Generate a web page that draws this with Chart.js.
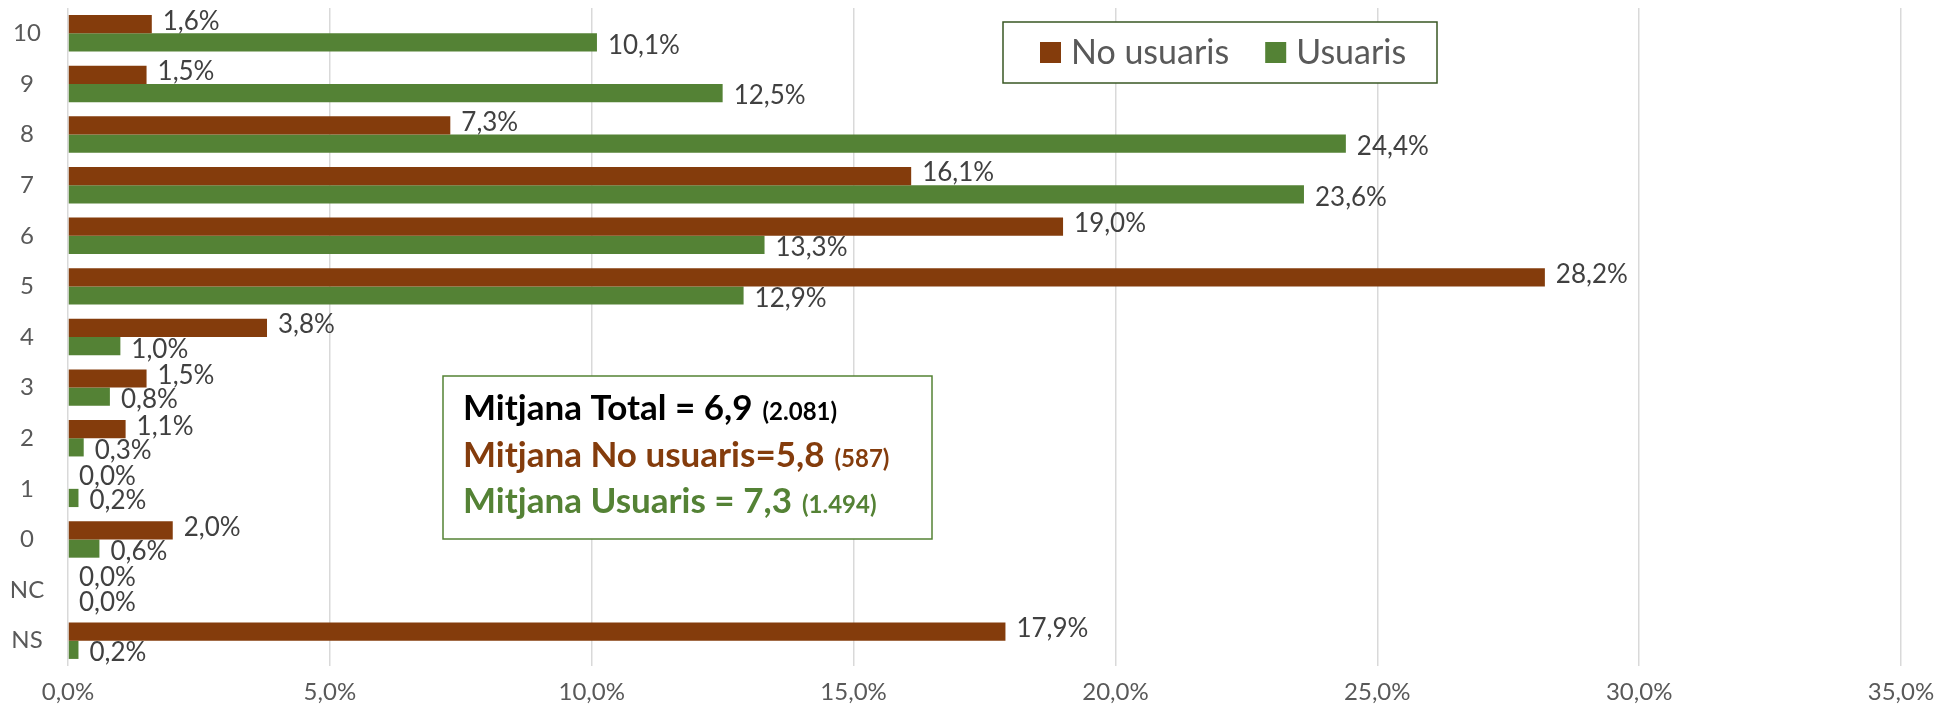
<!DOCTYPE html>
<html>
<head>
<meta charset="utf-8">
<script src="https://cdn.jsdelivr.net/npm/chart.js@4/dist/chart.umd.min.js"></script>
<style>
  html, body { margin: 0; padding: 0; background: #ffffff; }
  #wrap { width: 1952px; height: 717px; }
</style>
</head>
<body>
<div id="wrap"><canvas id="chart" width="1952" height="717"></canvas></div>
<script>
// categories top to bottom
const categories = ['10', '9', '8', '7', '6', '5', '4', '3', '2', '1', '0', 'NC', 'NS'];
// % per category
const noUsuaris = [1.6, 1.5, 7.3, 16.1, 19.0, 28.2, 3.8, 1.5, 1.1, 0.0, 2.0, 0.0, 17.9];
const usuaris = [10.1, 12.5, 24.4, 23.6, 13.3, 12.9, 1.0, 0.8, 0.3, 0.2, 0.6, 0.0, 0.2];
const xMax = 35;
const xStep = 5;
const seriesNames = ['No usuaris', 'Usuaris'];
const mitjanaTexts = ['Mitjana Total = 6,9', 'Mitjana No usuaris=5,8', 'Mitjana Usuaris = 7,3'];
const mitjanaN = ['(2.081)', '(587)', '(1.494)'];

const BROWN = '#843C0C';
const GREEN = '#548235';
const FONT = 'Lato, "Open Sans", sans-serif';

const fmt = v => v.toFixed(1).replace('.', ',') + '%';

// value labels at the end of each bar
const barLabels = {
    id: 'barLabels',
    afterDatasetsDraw(chart) {
        const ctx = chart.ctx;
        ctx.save();
        ctx.font = '26px ' + FONT;
        ctx.fillStyle = '#404040';
        ctx.textAlign = 'left';
        ctx.textBaseline = 'middle';
        chart.data.datasets.forEach((ds, i) => {
            const dy = i === 0 ? -3 : 3;
            chart.getDatasetMeta(i).data.forEach((bar, j) => {
                ctx.fillText(fmt(ds.data[j]), bar.x + 11, bar.y + dy);
            });
        });
        ctx.restore();
    }
};

// category labels, centred in the left margin
const catLabels = {
    id: 'catLabels',
    afterDraw(chart) {
        const ctx = chart.ctx;
        const sc = chart.scales.y;
        ctx.save();
        ctx.font = '24px ' + FONT;
        ctx.fillStyle = '#595959';
        ctx.textAlign = 'center';
        ctx.textBaseline = 'middle';
        chart.data.labels.forEach((lab, i) => {
            ctx.fillText(lab, 27, sc.getPixelForValue(i));
        });
        ctx.restore();
    }
};

// boxed legend inside the plot
const boxLegend = {
    id: 'boxLegend',
    afterDraw(chart) {
        const ctx = chart.ctx;
        const x = 1003, y = 22, w = 434, h = 61;
        ctx.save();
        ctx.fillStyle = '#ffffff';
        ctx.fillRect(x, y, w, h);
        ctx.strokeStyle = '#385723';
        ctx.lineWidth = 1.5;
        ctx.strokeRect(x, y, w, h);
        ctx.font = '34px ' + FONT;
        ctx.textBaseline = 'middle';
        ctx.textAlign = 'left';
        let cx = x + 37;
        chart.data.datasets.forEach((ds) => {
            ctx.fillStyle = ds.backgroundColor;
            ctx.fillRect(cx, y + 20, 21, 21);
            ctx.fillStyle = '#595959';
            ctx.fillText(ds.label, cx + 31, y + 31);
            cx += 31 + ctx.measureText(ds.label).width + 36;
        });
        ctx.restore();
    }
};

// text box with the means
const mitjanaBox = {
    id: 'mitjanaBox',
    afterDraw(chart) {
        const ctx = chart.ctx;
        const x = 443, y = 376, w = 489, h = 163;
        const colors = ['#000000', BROWN, GREEN];
        ctx.save();
        ctx.fillStyle = '#ffffff';
        ctx.fillRect(x, y, w, h);
        ctx.strokeStyle = '#548235';
        ctx.lineWidth = 1.5;
        ctx.strokeRect(x, y, w, h);
        ctx.textBaseline = 'alphabetic';
        ctx.textAlign = 'left';
        mitjanaTexts.forEach((t, i) => {
            const by = y + 44 + i * 46.5;
            ctx.fillStyle = colors[i];
            ctx.font = 'bold 35px ' + FONT;
            ctx.fillText(t, x + 20, by);
            const tw = ctx.measureText(t).width + 10;
            ctx.font = 'bold 24px ' + FONT;
            ctx.fillText(mitjanaN[i], x + 20 + tw, by);
        });
        ctx.restore();
    }
};

new Chart(document.getElementById('chart'), {
    type: 'bar',
    data: {
        labels: categories,
        datasets: [{
            label: seriesNames[0],
            data: noUsuaris,
            backgroundColor: BROWN
        },
        {
            label: seriesNames[1],
            data: usuaris,
            backgroundColor: GREEN
        }]
    },
    options: {
        indexAxis: 'y',
        responsive: false,
        animation: false,
        devicePixelRatio: 1,
        categoryPercentage: 0.72,
        barPercentage: 1,
        layout: { padding: { left: 0, right: 51, top: 8, bottom: 0 } },
        plugins: {
            legend: { display: false },
            tooltip: { enabled: false }
        },
        scales: {
            x: {
                min: 0,
                max: xMax,
                ticks: {
                    stepSize: xStep,
                    callback: v => fmt(v),
                    color: '#595959',
                    font: { family: FONT, size: 24 },
                    padding: 12,
                    maxRotation: 0
                },
                grid: { color: '#D9D9D9', lineWidth: 1.5, drawTicks: false },
                border: { display: false },
                afterFit: s => { s.height = 51; }
            },
            y: {
                ticks: { display: false },
                grid: { display: false },
                border: { display: false },
                afterFit: s => { s.width = 68; }
            }
        }
    },
    plugins: [barLabels, catLabels, boxLegend, mitjanaBox]
});
</script>
</body>
</html>
